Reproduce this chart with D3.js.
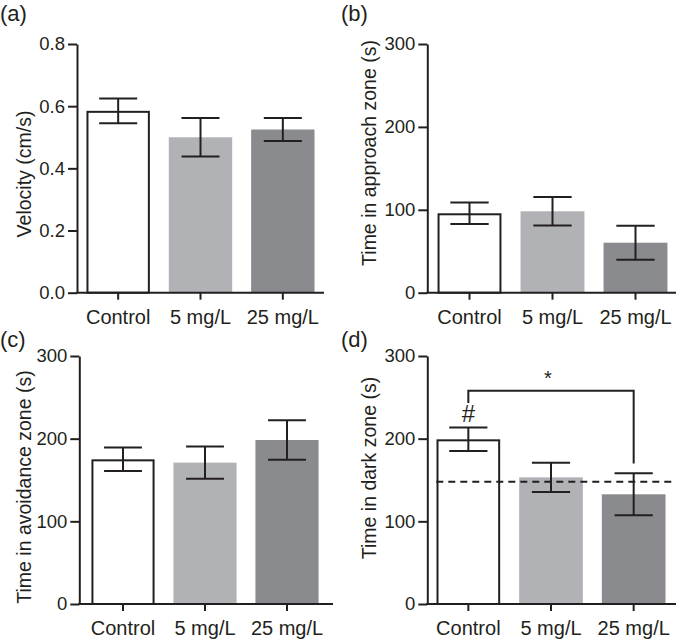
<!DOCTYPE html>
<html>
<head>
<meta charset="utf-8">
<script src="https://cdn.jsdelivr.net/npm/d3@7"></script>
<style>
  html, body { margin: 0; padding: 0; background: #fff; }
  svg { display: block; }
  text { font-family: "Liberation Sans", Arial, Helvetica, sans-serif; fill: #231f20; }
</style>
</head>
<body>
<svg id="chart" width="685" height="641"></svg>
<script>
// ---------- data ----------
const categories = ["Control", "5 mg/L", "25 mg/L"];

const velocityMean = [0.585, 0.500, 0.525];
const velocityErr  = [0.040, 0.062, 0.037];

const approachMean = [95.8, 98.2, 60.3];
const approachErr  = [12.9, 17.2, 20.5];

const avoidanceMean = [175.0, 171.0, 198.4];
const avoidanceErr  = [14.2, 19.4, 23.8];

const darkMean = [199.2, 153.2, 132.7];
const darkErr  = [14.2, 17.8, 25.4];

const velocityTicks = [0, 0.2, 0.4, 0.6, 0.8];
const timeTicks = [0, 100, 200, 300];

const panelLetters = ["(a)", "(b)", "(c)", "(d)"];
const yTitles = ["Velocity (cm/s)", "Time in approach zone (s)", "Time in avoidance zone (s)", "Time in dark zone (s)"];

// panel (d) annotations
const darkReference = 148;            // dashed reference line
const bracketTop = 258;               // significance bracket
const bracketLeftEnd = 243;
const bracketRightEnd = 170;
const bracketPair = [0, 2];
const bracketLabel = "*";
const hashLabel = "#";

const barColors = ["#ffffff", "#b1b2b6", "#8a8b8f"];

// ---------- layout ----------
const ink = "#231f20";
const svg = d3.select("#chart");

const panels = [
  { letter: panelLetters[0], title: yTitles[0], mean: velocityMean, err: velocityErr, ticks: velocityTicks, fmt: d3.format(".1f"), max: 0.8,
    axisX: 77, endX: 324, bandRange: [77, 324], y0: 292.7, y1: 44, letterX: 0, letterY: 20.5, titleX: 31, titleY: 174 },
  { letter: panelLetters[1], title: yTitles[1], mean: approachMean, err: approachErr, ticks: timeTicks, fmt: d3.format("d"), max: 300,
    axisX: 427.3, endX: 676, bandRange: [428, 677], y0: 292.7, y1: 44, letterX: 341, letterY: 20.5, titleX: 376, titleY: 153 },
  { letter: panelLetters[2], title: yTitles[2], mean: avoidanceMean, err: avoidanceErr, ticks: timeTicks, fmt: d3.format("d"), max: 300,
    axisX: 79.3, endX: 333, bandRange: [82, 328], y0: 604, y1: 356, letterX: 0, letterY: 347, titleX: 31, titleY: 487 },
  { letter: panelLetters[3], title: yTitles[3], mean: darkMean, err: darkErr, ticks: timeTicks, fmt: d3.format("d"), max: 300,
    axisX: 427.3, endX: 676, bandRange: [427, 675], y0: 604, y1: 356, letterX: 341, letterY: 347, titleX: 376, titleY: 468 }
];

panels.forEach((p, pi) => {
  const g = svg.append("g");
  const x = d3.scaleBand().domain(categories).range(p.bandRange).paddingInner(0.23).paddingOuter(0.115);
  const y = d3.scaleLinear().domain([0, p.max]).range([p.y0, p.y1]);
  const bw = x.bandwidth();

  // bars
  g.selectAll("rect.bar").data(categories).join("rect")
    .attr("class", "bar")
    .attr("x", (d, i) => x(d) + (i === 0 ? 1 : 0))
    .attr("width", (d, i) => bw - (i === 0 ? 2 : 0))
    .attr("y", (d, i) => y(p.mean[i]) + (i === 0 ? 1 : 0))
    .attr("height", (d, i) => y(0) - y(p.mean[i]) - (i === 0 ? 1 : 0))
    .attr("fill", (d, i) => barColors[i])
    .attr("stroke", (d, i) => i === 0 ? ink : "none")
    .attr("stroke-width", 2);

  // dashed reference line (panel d)
  if (pi === 3) {
    g.append("line")
      .attr("x1", p.axisX + 9).attr("x2", p.endX)
      .attr("y1", y(darkReference)).attr("y2", y(darkReference))
      .attr("stroke", ink).attr("stroke-width", 2)
      .attr("stroke-dasharray", "7,5");
  }

  // error bars
  const capHalf = bw * 0.3;
  categories.forEach((c, i) => {
    const cx = x(c) + bw / 2;
    const lo = y(p.mean[i] - p.err[i]);
    const hi = y(p.mean[i] + p.err[i]);
    g.append("line").attr("x1", cx).attr("x2", cx).attr("y1", lo).attr("y2", hi)
      .attr("stroke", ink).attr("stroke-width", 2);
    [lo, hi].forEach(yy => {
      g.append("line").attr("x1", cx - capHalf).attr("x2", cx + capHalf).attr("y1", yy).attr("y2", yy)
        .attr("stroke", ink).attr("stroke-width", 2);
    });
  });

  // y axis
  const yAxis = g.append("g")
    .attr("transform", `translate(${p.axisX},0)`)
    .call(d3.axisLeft(y).tickValues(p.ticks).tickFormat(p.fmt).tickSize(9).tickSizeOuter(0).tickPadding(3));
  yAxis.select(".domain").attr("stroke", ink).attr("stroke-width", 2);
  yAxis.selectAll(".tick line").attr("stroke", ink).attr("stroke-width", 2);
  yAxis.selectAll(".tick text").attr("font-size", 18.5).style("font-family", "'Liberation Sans', Arial, sans-serif").attr("fill", ink);

  // x axis
  const xAxis = g.append("g")
    .attr("transform", `translate(0,${p.y0})`)
    .call(d3.axisBottom(x).tickSize(7).tickSizeOuter(0).tickPadding(10));
  xAxis.select(".domain").remove();
  xAxis.selectAll(".tick line").attr("stroke", ink).attr("stroke-width", 2);
  xAxis.selectAll(".tick text").attr("font-size", 20).style("font-family", "'Liberation Sans', Arial, sans-serif").attr("fill", ink);
  g.append("line")
    .attr("x1", p.axisX - 1).attr("x2", p.endX)
    .attr("y1", p.y0).attr("y2", p.y0)
    .attr("stroke", ink).attr("stroke-width", 2);

  // y title
  g.append("text")
    .attr("transform", `translate(${p.titleX},${p.titleY}) rotate(-90)`)
    .attr("text-anchor", "middle")
    .attr("font-size", 19.5)
    .text(p.title);

  // panel letter
  g.append("text")
    .attr("x", p.letterX).attr("y", p.letterY)
    .attr("font-size", 22)
    .text(p.letter);

  // annotations (panel d)
  if (pi === 3) {
    const xl = x(categories[bracketPair[0]]) + bw / 2;
    const xr = x(categories[bracketPair[1]]) + bw / 2;
    g.append("path")
      .attr("d", `M${xl},${y(bracketLeftEnd)}V${y(bracketTop)}H${xr}V${y(bracketRightEnd)}`)
      .attr("fill", "none").attr("stroke", ink).attr("stroke-width", 2);
    g.append("text")
      .attr("x", (xl + xr) / 2 - 3).attr("y", y(bracketTop) - 6)
      .attr("text-anchor", "middle").attr("font-size", 20)
      .text(bracketLabel);
    g.append("text")
      .attr("x", xl).attr("y", y(darkMean[0] + darkErr[0]) - 6)
      .attr("text-anchor", "middle").attr("font-size", 24)
      .text(hashLabel);
  }
});
</script>
</body>
</html>
